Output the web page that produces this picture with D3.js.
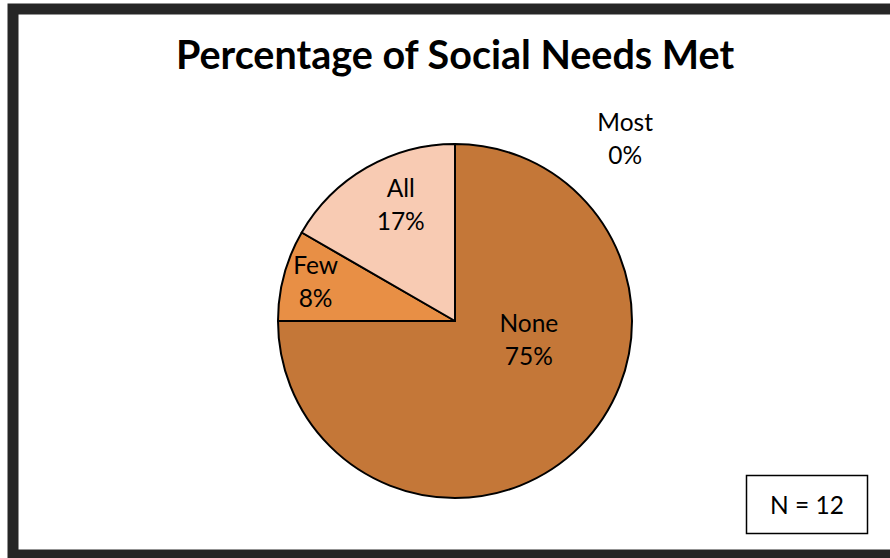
<!DOCTYPE html>
<html>
<head>
<meta charset="utf-8">
<script src="https://cdn.jsdelivr.net/npm/d3@7"></script>
<style>
  html, body { margin: 0; padding: 0; background: #fff; }
  svg { display: block; }
  text { font-family: Lato, "Open Sans", sans-serif; fill: #000; }
</style>
</head>
<body>
<svg id="chart" width="890" height="558"></svg>
<script>
// Social needs survey, N = 12 respondents
const categories = ["None", "Few", "All", "Most"];
const counts = [9, 1, 2, 0];
const percentLabels = ["75%", "8%", "17%", "0%"];
const sliceColors = ["#C47738", "#E88F45", "#F8CBB3", "#F4B183"];
const chartTitle = "Percentage of Social Needs Met";
const sampleNote = "N = 12";

const W = 890, H = 558;
const svg = d3.select("#chart");

// outer frame
svg.append("rect")
  .attr("x", 13).attr("y", 9)
  .attr("width", W + 20).attr("height", H - 12)
  .attr("fill", "#fff")
  .attr("stroke", "#262626")
  .attr("stroke-width", 11);

svg.append("text")
  .attr("x", 455).attr("y", 69)
  .attr("text-anchor", "middle")
  .attr("font-size", 39.5)
  .attr("font-weight", 700)
  .text(chartTitle);

const cx = 455, cy = 321, R = 177;
const g = svg.append("g").attr("transform", `translate(${cx},${cy})`);

const pie = d3.pie().sort(null).value(d => d.count);
const data = categories.map((c, i) => ({ name: c, count: counts[i], pct: percentLabels[i], color: sliceColors[i] }));
const arcs = pie(data);
const arc = d3.arc().innerRadius(0).outerRadius(R);

g.selectAll("path.slice")
  .data(arcs.filter(a => a.endAngle > a.startAngle))
  .join("path")
  .attr("class", "slice")
  .attr("d", arc)
  .attr("fill", d => d.data.color)
  .attr("stroke", "#000")
  .attr("stroke-width", 2)
  .attr("stroke-linejoin", "round");

// label placement: polar offset (angle shift in radians, radius as fraction of R)
const labelPlacement = {
  None: { dAngle: -0.54, r: 0.43 },
  Few:  { dAngle: 0.02, r: 0.82 },
  All:  { dAngle: 0.09, r: 0.73 },
  Most: { dAngle: 0.75, r: 1.41 }
};

const labels = g.selectAll("g.lbl")
  .data(arcs)
  .join("g")
  .attr("class", "lbl")
  .attr("transform", d => {
    const p = labelPlacement[d.data.name];
    const mid = (d.startAngle + d.endAngle) / 2 + p.dAngle;
    const rr = R * p.r;
    return `translate(${Math.sin(mid) * rr},${-Math.cos(mid) * rr})`;
  });

labels.append("text")
  .attr("text-anchor", "middle")
  .attr("y", -7)
  .attr("font-size", 24.5)
  .text(d => d.data.name);
labels.append("text")
  .attr("text-anchor", "middle")
  .attr("y", 26)
  .attr("font-size", 24.5)
  .text(d => d.data.pct);

// sample size box
svg.append("rect")
  .attr("x", 746.5).attr("y", 475.5)
  .attr("width", 121).attr("height", 58)
  .attr("fill", "#fff")
  .attr("stroke", "#000")
  .attr("stroke-width", 1.5);
svg.append("text")
  .attr("x", 807).attr("y", 514)
  .attr("text-anchor", "middle")
  .attr("font-size", 24.5)
  .text(sampleNote);
</script>
</body>
</html>
